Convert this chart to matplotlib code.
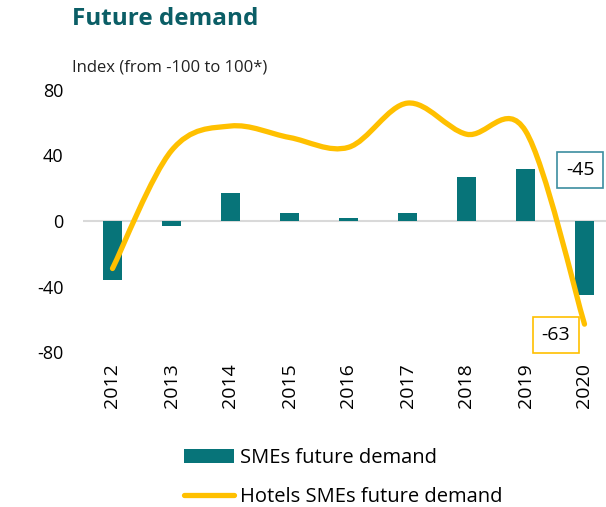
import numpy as np
import matplotlib
matplotlib.use("Agg")
from matplotlib import pyplot as plt
from matplotlib.path import Path
from matplotlib.patches import PathPatch
from matplotlib.lines import Line2D
from matplotlib.patches import Patch

plt.rcParams["font.family"] = ["Open Sans", "DejaVu Sans"]
plt.rcParams["axes.unicode_minus"] = False

years = ["2012", "2013", "2014", "2015", "2016", "2017", "2018", "2019", "2020"]
smes_demand = [-36, -3, 17, 5, 2, 5, 27, 32, -45]
hotels_demand = [-29, 43, 58, 51, 45, 72, 53, 55, -63]

teal = "#077479"
gold = "#FFC000"


def smooth_path(x, y, tension=1 / 6):
  # Excel-like smoothed line: cubic bezier through the points
  verts = [(x[0], y[0])]
  codes = [Path.MOVETO]
  n = len(x)
  for i in range(n - 1):
    x0, y0 = (x[i - 1], y[i - 1]) if i > 0 else (x[i], y[i])
    x3, y3 = (x[i + 2], y[i + 2]) if i + 2 < n else (x[i + 1], y[i + 1])
    c1 = (x[i] + (x[i + 1] - x0) * tension, y[i] + (y[i + 1] - y0) * tension)
    c2 = (x[i + 1] - (x3 - x[i]) * tension, y[i + 1] - (y3 - y[i]) * tension)
    verts += [c1, c2, (x[i + 1], y[i + 1])]
    codes += [Path.CURVE4] * 3
  return Path(verts, codes)


fig = plt.figure(figsize=(6.06, 5.07), dpi=100)
ax = fig.add_axes([83 / 606, (507 - 352) / 507, 531 / 606, 262 / 507])

pos = np.arange(len(years))
ax.bar(pos, smes_demand, width=0.32, color=teal, zorder=2)
ax.axhline(0, color="#d9d9d9", lw=1.5, zorder=1)

line = PathPatch(smooth_path(pos, hotels_demand), fill=False, edgecolor=gold,
                 lw=3.8, capstyle="round", joinstyle="round", zorder=3)
ax.add_patch(line)

ax.set_xlim(-0.5, len(years) - 0.5)
ax.set_ylim(-80, 80)
ax.set_yticks([-80, -40, 0, 40, 80])
ax.set_xticks(pos)
ax.set_xticklabels(years, rotation=90)
ax.tick_params(axis="both", length=0, labelsize=13, colors="black")
ax.tick_params(axis="x", pad=8, labelsize=14)
ax.tick_params(axis="y", pad=14)
for s in ax.spines.values():
  s.set_visible(False)

# value labels for 2020
ax.annotate(str(smes_demand[-1]), xy=(pos[-1] - 0.07, 31), ha="center", va="center",
            fontsize=14, bbox=dict(boxstyle="square,pad=0.45", fc="white", ec="#3c8ea0", lw=1.2),
            annotation_clip=False, zorder=5)
ax.annotate(str(hotels_demand[-1]), xy=(pos[-1] - 0.49, -69.5), ha="center", va="center",
            fontsize=14, bbox=dict(boxstyle="square,pad=0.45", fc="white", ec=gold, lw=1.2),
            annotation_clip=False, zorder=5)

fig.text(72 / 606, 1 - 19 / 507, "Future demand", fontsize=17.5, fontweight="bold",
         color="#0b5e66", va="center", ha="left")
fig.text(72 / 606, 1 - 68 / 507, "Index (from -100 to 100*)", fontsize=12,
         color="#222222", va="center", ha="left")

handles = [Patch(facecolor=teal, edgecolor="none"),
           Line2D([0], [0], color=gold, lw=3.8, solid_capstyle="round")]
fig.legend(handles, ["SMEs future demand", "Hotels SMEs future demand"],
           loc="upper left", bbox_to_anchor=(176 / 606, 1 - 440 / 507),
           frameon=False, fontsize=14.5, handlelength=2.5, handletextpad=0.3,
           labelspacing=0.95, borderaxespad=0)

fig.savefig("out.png", dpi=100)
